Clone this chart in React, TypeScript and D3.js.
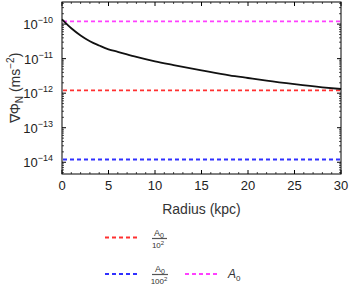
import React from "react";
import * as d3 from "d3";

// radius (kpc) and Newtonian acceleration (m s^-2)
const radius = [0, 1, 2, 3, 4, 5, 6, 8, 10, 12, 15, 18, 20, 22, 25, 28, 30];
const accel = [
  1.38e-10, 7.6e-11, 4.7e-11, 3.2e-11, 2.4e-11, 1.86e-11, 1.58e-11, 1.12e-11, 8.3e-12,
  6.5e-12, 4.6e-12, 3.3e-12, 2.75e-12, 2.3e-12, 1.82e-12, 1.48e-12, 1.32e-12,
];

const A0 = 1.2e-10;
const refLines = [
  { key: "a0", value: A0, color: "#ff40ff" },
  { key: "a0_10", value: A0 / 1e2, color: "#ff3030" },
  { key: "a0_100", value: A0 / 1e4, color: "#3030ff" },
];

const xTicks = [0, 5, 10, 15, 20, 25, 30];
const yExponents = [-10, -11, -12, -13, -14];

const W = 350;
const H = 294;
const m = { left: 62, right: 341, top: 2, bottom: 174 };
const font = "Liberation Sans, Arial, sans-serif";
const dash = "4,3";

const App: React.FC = () => {
  const x = d3.scaleLinear().domain([0, 30]).range([m.left, m.right]);
  const y = d3
    .scaleLog()
    .domain([Math.pow(10, -14.34), Math.pow(10, -9.36)])
    .range([m.bottom, m.top]);

  const line = d3
    .line<number>()
    .x((_, i) => x(radius[i]))
    .y((d) => y(d))
    .curve(d3.curveMonotoneX);

  const xMinor = d3.range(0, 30.01, 1).filter((v) => v % 5 !== 0);
  const yMinor: number[] = [];
  for (let e = -15; e <= -10; e++) {
    for (let k = 2; k <= 9; k++) {
      const v = k * Math.pow(10, e);
      if (v > y.domain()[0] && v < y.domain()[1]) yMinor.push(v);
    }
  }
  const yMajor = yExponents.map((e) => Math.pow(10, e));
  const ax = "#000";

  return (
    <div style={{ position: "fixed", left: 0, top: 0 }}>
      <svg width={W} height={H} style={{ display: "block", background: "#fff" }} fontFamily={font}>
        {/* reference lines */}
        {refLines.map((r) => (
          <line
            key={r.key}
            x1={m.left + 1}
            x2={m.right - 1}
            y1={y(r.value)}
            y2={y(r.value)}
            stroke={r.color}
            strokeWidth={1.8}
            strokeDasharray={dash}
          />
        ))}
        {/* curve */}
        <path d={line(accel) ?? ""} fill="none" stroke="#111" strokeWidth={1.8} />

        {/* frame */}
        <rect
          x={m.left}
          y={m.top}
          width={m.right - m.left}
          height={m.bottom - m.top}
          fill="none"
          stroke={ax}
          strokeWidth={1}
        />
        {/* x ticks */}
        {xTicks.map((t) => (
          <g key={"xt" + t}>
            <line x1={x(t)} x2={x(t)} y1={m.bottom} y2={m.bottom - 4} stroke={ax} />
            <line x1={x(t)} x2={x(t)} y1={m.top} y2={m.top + 4} stroke={ax} />
            <text x={x(t)} y={190} textAnchor="middle" fontSize={13} fill="#222">
              {t}
            </text>
          </g>
        ))}
        {xMinor.map((t) => (
          <g key={"xm" + t}>
            <line x1={x(t)} x2={x(t)} y1={m.bottom} y2={m.bottom - 2} stroke={ax} strokeWidth={0.7} />
            <line x1={x(t)} x2={x(t)} y1={m.top} y2={m.top + 2} stroke={ax} strokeWidth={0.7} />
          </g>
        ))}
        {/* y ticks */}
        {yMajor.map((t, i) => (
          <g key={"yt" + i}>
            <line x1={m.left} x2={m.left + 4} y1={y(t)} y2={y(t)} stroke={ax} />
            <line x1={m.right} x2={m.right - 4} y1={y(t)} y2={y(t)} stroke={ax} />
            <text x={53} y={y(t) + 5} textAnchor="end" fontSize={13} fill="#222">
              10
              <tspan dy={-6} fontSize={9}>
                {"\u2212" + Math.abs(yExponents[i])}
              </tspan>
            </text>
          </g>
        ))}
        {yMinor.map((t, i) => (
          <g key={"ym" + i}>
            <line x1={m.left} x2={m.left + 2} y1={y(t)} y2={y(t)} stroke={ax} strokeWidth={0.7} />
            <line x1={m.right} x2={m.right - 2} y1={y(t)} y2={y(t)} stroke={ax} strokeWidth={0.7} />
          </g>
        ))}

        {/* axis titles */}
        <text x={(m.left + m.right) / 2} y={214} textAnchor="middle" fontSize={14} fill="#333">
          Radius (kpc)
        </text>
        <text
          transform={`translate(20, ${(m.top + m.bottom) / 2}) rotate(-90)`}
          textAnchor="middle"
          fontSize={14}
          fill="#333"
        >
          ∇Φ
          <tspan dy={3} fontSize={10}>N</tspan>
          <tspan dy={-3}> (ms</tspan>
          <tspan dy={-6} fontSize={10}>−2</tspan>
          <tspan dy={6}>)</tspan>
        </text>

        {/* legend */}
        <g fill="#333">
          <line x1={105} x2={140} y1={237.5} y2={237.5} stroke={refLines[1].color} strokeWidth={1.8} strokeDasharray={dash} />
          <text x={159} y={236} textAnchor="middle" fontSize={9}>
            A<tspan dy={2} fontSize={7}>0</tspan>
          </text>
          <line x1={152} x2={167} y1={238.5} y2={238.5} stroke="#555" strokeWidth={1.2} />
          <text x={158} y={247.5} textAnchor="middle" fontSize={8}>
            10<tspan dy={-3} fontSize={6}>2</tspan>
          </text>

          <line x1={105} x2={140} y1={274} y2={274} stroke={refLines[2].color} strokeWidth={1.8} strokeDasharray={dash} />
          <text x={160} y={272} textAnchor="middle" fontSize={9}>
            A<tspan dy={2} fontSize={7}>0</tspan>
          </text>
          <line x1={152} x2={168} y1={274.5} y2={274.5} stroke="#555" strokeWidth={1.2} />
          <text x={159} y={283.5} textAnchor="middle" fontSize={8}>
            100<tspan dy={-3} fontSize={6}>2</tspan>
          </text>

          <line x1={185} x2={220} y1={274} y2={274} stroke={refLines[0].color} strokeWidth={1.8} strokeDasharray={dash} />
          <text x={228} y={278} fontSize={12} fontStyle="italic">
            A<tspan dy={3} fontSize={8} fontStyle="normal">0</tspan>
          </text>
        </g>
      </svg>
    </div>
  );
};

export default App;
